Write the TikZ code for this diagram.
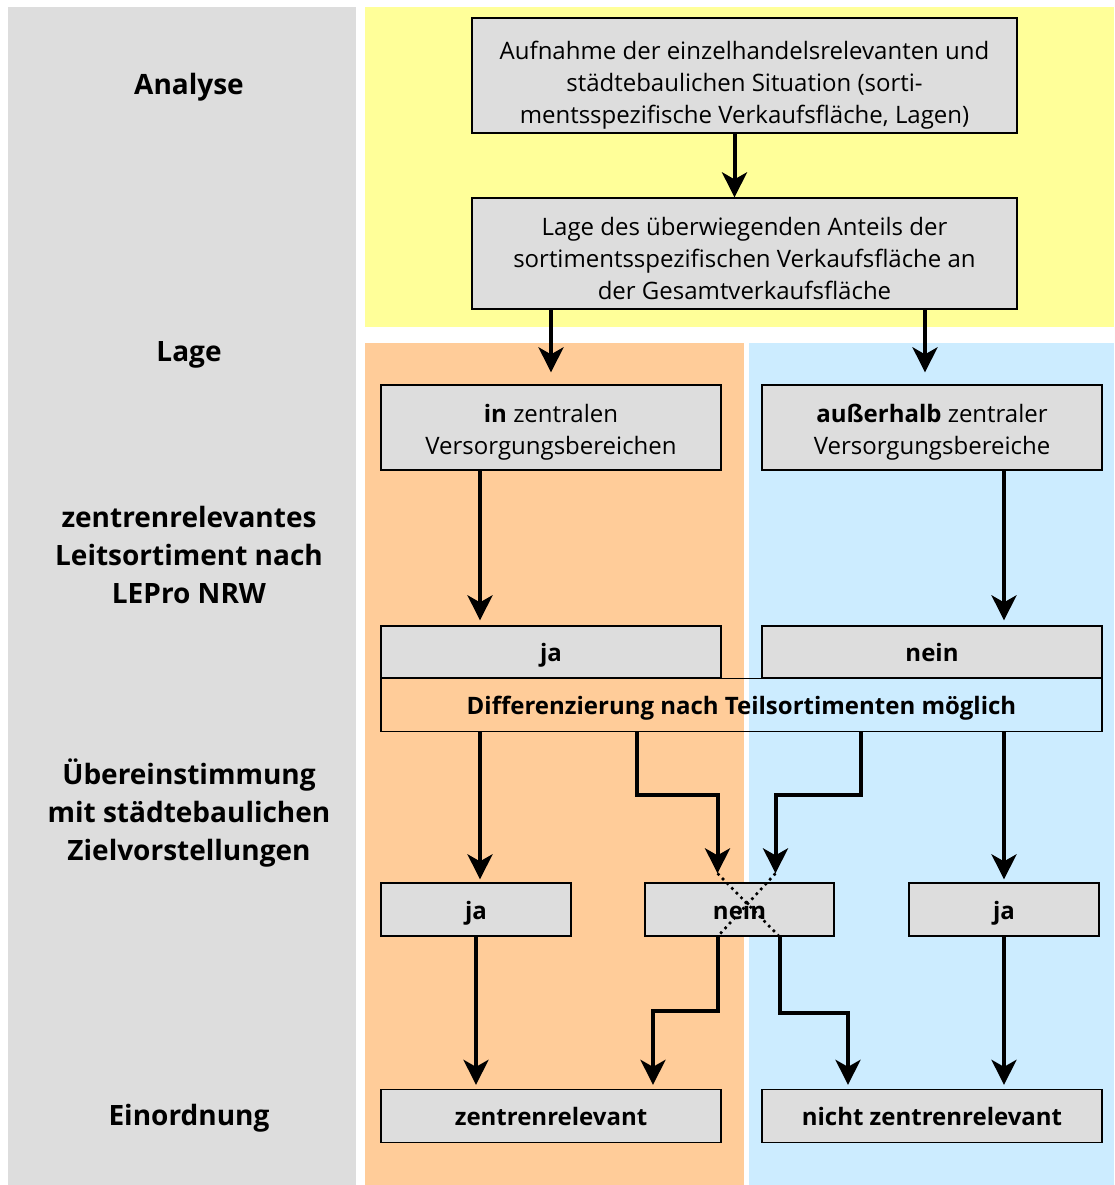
\documentclass[tikz,border=0pt]{standalone}
\usepackage{fontspec}
\setmainfont{Open Sans}
\usetikzlibrary{arrows.meta}

\definecolor{panelgray}{HTML}{DDDDDD}
\definecolor{analysebg}{HTML}{FFFF99}
\definecolor{innenbg}{HTML}{FFCC99}
\definecolor{aussenbg}{HTML}{CCECFF}

\newcommand{\topgap}[1]{\rule{0pt}{#1}}

\begin{document}
\begin{tikzpicture}[x=1pt,y=-1pt,
    box/.style={draw, fill=panelgray, line width=1.3pt, inner sep=0pt, align=center,
      font=\fontsize{24}{32}\selectfont},
    boldbox/.style={box, text height=23pt, text depth=4pt, font=\fontsize{24}{32}\selectfont\bfseries},
    head/.style={font=\fontsize{28}{38}\selectfont\bfseries, align=center},
    arr/.style={line width=4pt, -{Stealth[length=25pt,width=25pt,inset=7pt]}},
    dots/.style={line width=2.6pt, dash pattern=on 2.6pt off 4pt}]
  \useasboundingbox (0,0) rectangle (1114,1185);
  % panels
  \fill[panelgray] (8,7) rectangle (356,1185);
  \fill[analysebg] (365,7) rectangle (1114,327);
  \fill[innenbg] (365,343) rectangle (744,1185);
  \fill[aussenbg] (749,343) rectangle (1114,1185);

  % row labels
  \node[head] (analyse) at (189,87) {Analyse};
  \node[head] (lage) at (189,355) {Lage};
  \node[head] (leit) at (189,555) {zentrenrelevantes\\Leitsortiment nach\\LEPro NRW};
  \node[head] (ueber) at (189,813) {Übereinstimmung\\mit städtebaulichen\\Zielvorstellungen};
  \node[head] (einord) at (189,1118) {Einordnung};

  % boxes
  \node[box, minimum width=545pt, minimum height=115pt] (aufnahme) at (744.5,75.5)
    {\topgap{38pt}Aufnahme der einzelhandelsrelevanten und\\städtebaulichen Situation (sorti-\\mentsspezifische Verkaufsfläche, Lagen)};
  \node[box, minimum width=545pt, minimum height=111pt] (gesamt) at (744.5,253.5)
    {\topgap{29pt}Lage des überwiegenden Anteils der\\sortimentsspezifischen Verkaufsfläche an\\der Gesamtverkaufsfläche};
  \node[box, minimum width=340pt, minimum height=85pt] (in) at (551,427.5)
    {\topgap{28pt}\textbf{in} zentralen\\Versorgungsbereichen};
  \node[box, minimum width=340pt, minimum height=85pt] (ausser) at (932,427.5)
    {\topgap{28pt}\textbf{außerhalb} zentraler\\Versorgungsbereiche};
  \node[boldbox, minimum width=340pt, minimum height=52pt] (ja1) at (551,652) {ja};
  \node[boldbox, minimum width=340pt, minimum height=52pt] (nein1) at (932,652) {nein};
  \node[boldbox, fill=none, minimum width=721pt, minimum height=53pt] (diff) at (741.5,705)
    {Differenzierung nach Teilsortimenten möglich};
  \node[boldbox, minimum width=190pt, minimum height=53pt] (ja2) at (476,909.5) {ja};
  \node[boldbox, minimum width=189pt, minimum height=53pt] (nein2) at (739.5,909.5) {nein};
  \node[boldbox, minimum width=190pt, minimum height=53pt] (ja3) at (1004,909.5) {ja};
  \node[boldbox, minimum width=340pt, minimum height=53pt] (zrel) at (551,1116) {zentrenrelevant};
  \node[boldbox, minimum width=340pt, minimum height=53pt] (nzrel) at (932,1116) {nicht zentrenrelevant};

  % crossing points at nein
  \coordinate (nl) at ([xshift=-22pt]nein2.north);
  \coordinate (nr) at ([xshift=36pt]nein2.north);
  \coordinate (nlb) at ([xshift=-22pt]nein2.south);
  \coordinate (nrb) at ([xshift=40pt]nein2.south);

  % arrows
  \draw[arr] ([xshift=-10pt]aufnahme.south) -- ([xshift=-10pt]gesamt.north);
  \draw[arr, shorten >=12pt] (gesamt.south -| in.north) -- (in.north);
  \draw[arr, shorten >=12pt] ([xshift=-7pt]gesamt.south -| ausser.north) -- ([xshift=-7pt]ausser.north);
  \draw[arr, shorten >=5pt] ([xshift=4pt]in.south -| ja2) -- ([xshift=4pt]ja1.north -| ja2);
  \draw[arr, shorten >=5pt] (ausser.south -| ja3) -- (nein1.north -| ja3);
  \draw[arr, shorten >=3pt] ([xshift=4pt]diff.south -| ja2) -- ([xshift=4pt]ja2.north);
  \draw[arr, shorten >=9pt] ([xshift=-104.5pt]diff.south) -- ++(0,63) -| (nl);
  \draw[arr, shorten >=9pt] ([xshift=119.5pt]diff.south) -- ++(0,63) -| (nr);
  \draw[arr, shorten >=3pt] (diff.south -| ja3) -- (ja3.north);
  \draw[dots] ([yshift=9pt]nl) -- (nrb);
  \draw[dots] ([yshift=9pt]nr) -- (nlb);
  \draw[arr, shorten >=4pt] (nlb) -- ++(0,74) -| ([xshift=102pt]zrel.north);
  \draw[arr, shorten >=4pt] (nrb) -- ++(0,76) -| ([xshift=-84pt]nzrel.north);
  \draw[arr, shorten >=4pt] (ja2.south) -- (zrel.north -| ja2);
  \draw[arr, shorten >=4pt] (ja3.south) -- (nzrel.north -| ja3);
\end{tikzpicture}
\end{document}
